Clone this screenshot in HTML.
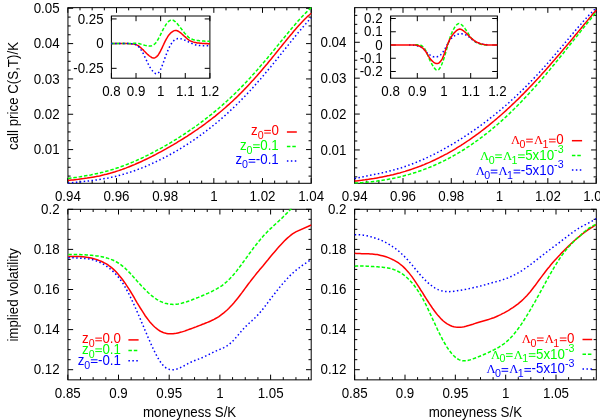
<!DOCTYPE html><html><head><meta charset="utf-8"><style>html,body{margin:0;padding:0;background:#fff}svg{display:block}text{font-family:"Liberation Sans",sans-serif;font-size:13.33px}.sy{font-family:"Liberation Serif",serif}</style></head><body>
<svg width="600" height="420" viewBox="0 0 600 420" style="will-change:transform">
<rect width="600" height="420" fill="#fff"/>
<defs>
<clipPath id="c_tl"><rect x="67.45" y="7.15" width="244.30" height="176.65"/></clipPath>
<clipPath id="c_tr"><rect x="354.10" y="7.15" width="242.70" height="176.65"/></clipPath>
<clipPath id="c_bl"><rect x="67.45" y="208.80" width="244.25" height="171.55"/></clipPath>
<clipPath id="c_br"><rect x="354.10" y="208.80" width="242.70" height="171.55"/></clipPath>
<clipPath id="c_itl"><rect x="110.90" y="15.50" width="99.50" height="63.20"/></clipPath>
<clipPath id="c_itr"><rect x="390.10" y="15.50" width="107.80" height="63.20"/></clipPath>
</defs>
<path d="M67.83,183.30v-5.20M67.83,7.65v5.20M116.50,183.30v-5.20M116.50,7.65v5.20M165.16,183.30v-5.20M165.16,7.65v5.20M213.83,183.30v-5.20M213.83,7.65v5.20M262.49,183.30v-5.20M262.49,7.65v5.20M311.16,183.30v-5.20M311.16,7.65v5.20M80.00,183.30v-2.70M80.00,7.65v2.70M92.16,183.30v-2.70M92.16,7.65v2.70M104.33,183.30v-2.70M104.33,7.65v2.70M128.66,183.30v-2.70M128.66,7.65v2.70M140.83,183.30v-2.70M140.83,7.65v2.70M153.00,183.30v-2.70M153.00,7.65v2.70M177.33,183.30v-2.70M177.33,7.65v2.70M189.50,183.30v-2.70M189.50,7.65v2.70M201.66,183.30v-2.70M201.66,7.65v2.70M225.99,183.30v-2.70M225.99,7.65v2.70M238.16,183.30v-2.70M238.16,7.65v2.70M250.33,183.30v-2.70M250.33,7.65v2.70M274.66,183.30v-2.70M274.66,7.65v2.70M286.83,183.30v-2.70M286.83,7.65v2.70M298.99,183.30v-2.70M298.99,7.65v2.70M67.95,8.27h5.20M311.25,8.27h-5.20M67.95,43.60h5.20M311.25,43.60h-5.20M67.95,78.93h5.20M311.25,78.93h-5.20M67.95,114.26h5.20M311.25,114.26h-5.20M67.95,149.59h5.20M311.25,149.59h-5.20M67.95,176.09h2.70M311.25,176.09h-2.70M67.95,167.26h2.70M311.25,167.26h-2.70M67.95,158.42h2.70M311.25,158.42h-2.70M67.95,140.76h2.70M311.25,140.76h-2.70M67.95,131.93h2.70M311.25,131.93h-2.70M67.95,123.09h2.70M311.25,123.09h-2.70M67.95,105.43h2.70M311.25,105.43h-2.70M67.95,96.59h2.70M311.25,96.59h-2.70M67.95,87.76h2.70M311.25,87.76h-2.70M67.95,70.10h2.70M311.25,70.10h-2.70M67.95,61.27h2.70M311.25,61.27h-2.70M67.95,52.43h2.70M311.25,52.43h-2.70M67.95,34.77h2.70M311.25,34.77h-2.70M67.95,25.94h2.70M311.25,25.94h-2.70M67.95,17.10h2.70M311.25,17.10h-2.70" stroke="#000" stroke-width="1.00" fill="none"/>
<rect x="67.95" y="7.65" width="243.30" height="175.65" fill="none" stroke="#000" stroke-width="1.00"/>
<g clip-path="url(#c_tl)">
<path d="M68.0,180.6 L69.7,180.3 L71.5,180.1 L73.2,179.9 L75.0,179.7 L76.7,179.5 L78.5,179.3 L80.2,179.0 L82.0,178.8 L83.7,178.6 L85.5,178.3 L87.2,178.1 L89.0,177.8 L90.7,177.5 L92.5,177.2 L94.2,176.9 L96.0,176.6 L97.7,176.2 L99.5,175.9 L101.2,175.5 L103.0,175.1 L104.7,174.6 L106.5,174.2 L108.2,173.7 L110.0,173.3 L111.7,172.8 L113.5,172.2 L115.2,171.7 L117.0,171.1 L118.7,170.6 L120.5,170.0 L122.2,169.4 L124.0,168.7 L125.7,168.1 L127.5,167.4 L129.2,166.7 L131.0,166.0 L132.7,165.3 L134.5,164.6 L136.2,163.8 L138.0,163.0 L139.7,162.3 L141.5,161.5 L143.2,160.6 L145.0,159.8 L146.7,159.0 L148.5,158.1 L150.2,157.3 L152.0,156.4 L153.7,155.5 L155.5,154.6 L157.2,153.7 L159.0,152.7 L160.7,151.8 L162.5,150.8 L164.2,149.9 L166.0,148.9 L167.7,147.9 L169.5,146.9 L171.2,145.9 L173.0,144.9 L174.7,143.9 L176.5,142.8 L178.2,141.7 L180.0,140.7 L181.7,139.6 L183.5,138.5 L185.2,137.4 L187.0,136.3 L188.7,135.1 L190.5,134.0 L192.2,132.8 L194.0,131.7 L195.7,130.5 L197.5,129.3 L199.2,128.0 L201.0,126.8 L202.7,125.6 L204.5,124.3 L206.2,123.0 L208.0,121.7 L209.7,120.4 L211.5,119.0 L213.2,117.7 L215.0,116.3 L216.7,114.9 L218.5,113.4 L220.2,112.0 L222.0,110.5 L223.7,109.0 L225.5,107.5 L227.2,105.9 L229.0,104.4 L230.7,102.8 L232.5,101.2 L234.2,99.5 L236.0,97.9 L237.7,96.2 L239.5,94.4 L241.2,92.7 L243.0,90.9 L244.7,89.1 L246.5,87.3 L248.2,85.4 L250.0,83.5 L251.7,81.6 L253.5,79.7 L255.2,77.7 L257.0,75.8 L258.7,73.8 L260.5,71.7 L262.2,69.7 L264.0,67.6 L265.7,65.5 L267.5,63.4 L269.2,61.3 L271.0,59.2 L272.7,57.0 L274.5,54.9 L276.2,52.7 L278.0,50.5 L279.7,48.4 L281.5,46.2 L283.2,44.0 L285.0,41.9 L286.7,39.7 L288.5,37.6 L290.2,35.5 L292.0,33.4 L293.7,31.3 L295.5,29.3 L297.2,27.3 L299.0,25.3 L300.7,23.4 L302.5,21.5 L304.2,19.7 L306.0,18.0 L307.7,16.3 L309.5,14.8 L311.2,13.3" stroke="#ff0000" stroke-width="1.5" fill="none"/>
<path d="M68.0,178.5 L69.7,178.2 L71.5,178.0 L73.2,177.7 L75.0,177.4 L76.7,177.2 L78.5,176.9 L80.2,176.7 L82.0,176.4 L83.7,176.1 L85.5,175.8 L87.2,175.5 L89.0,175.2 L90.7,174.9 L92.5,174.5 L94.2,174.2 L96.0,173.8 L97.7,173.4 L99.5,173.0 L101.2,172.6 L103.0,172.2 L104.7,171.7 L106.5,171.2 L108.2,170.8 L110.0,170.2 L111.7,169.7 L113.5,169.2 L115.2,168.6 L117.0,168.0 L118.7,167.5 L120.5,166.8 L122.2,166.2 L124.0,165.6 L125.7,164.9 L127.5,164.2 L129.2,163.5 L131.0,162.8 L132.7,162.1 L134.5,161.3 L136.2,160.6 L138.0,159.8 L139.7,159.0 L141.5,158.2 L143.2,157.4 L145.0,156.5 L146.7,155.7 L148.5,154.8 L150.2,153.9 L152.0,153.0 L153.7,152.1 L155.5,151.2 L157.2,150.2 L159.0,149.3 L160.7,148.3 L162.5,147.4 L164.2,146.4 L166.0,145.4 L167.7,144.3 L169.5,143.3 L171.2,142.3 L173.0,141.2 L174.7,140.2 L176.5,139.1 L178.2,138.0 L180.0,136.9 L181.7,135.7 L183.5,134.6 L185.2,133.5 L187.0,132.3 L188.7,131.1 L190.5,129.9 L192.2,128.7 L194.0,127.5 L195.7,126.2 L197.5,125.0 L199.2,123.7 L201.0,122.4 L202.7,121.1 L204.5,119.8 L206.2,118.4 L208.0,117.1 L209.7,115.7 L211.5,114.3 L213.2,112.9 L215.0,111.4 L216.7,110.0 L218.5,108.5 L220.2,107.0 L222.0,105.5 L223.7,103.9 L225.5,102.3 L227.2,100.8 L229.0,99.1 L230.7,97.5 L232.5,95.9 L234.2,94.2 L236.0,92.5 L237.7,90.7 L239.5,89.0 L241.2,87.2 L243.0,85.4 L244.7,83.6 L246.5,81.7 L248.2,79.9 L250.0,78.0 L251.7,76.0 L253.5,74.1 L255.2,72.1 L257.0,70.2 L258.7,68.2 L260.5,66.1 L262.2,64.1 L264.0,62.1 L265.7,60.0 L267.5,57.9 L269.2,55.8 L271.0,53.7 L272.7,51.6 L274.5,49.4 L276.2,47.3 L278.0,45.1 L279.7,43.0 L281.5,40.8 L283.2,38.7 L285.0,36.6 L286.7,34.4 L288.5,32.3 L290.2,30.2 L292.0,28.1 L293.7,26.1 L295.5,24.0 L297.2,22.0 L299.0,20.0 L300.7,18.1 L302.5,16.2 L304.2,14.4 L306.0,12.6 L307.7,10.9 L309.5,9.2 L311.2,7.6" stroke="#00ff00" stroke-width="1.5" fill="none" stroke-dasharray="3.5 1.9"/>
<path d="M68.0,183.3 L69.7,183.0 L71.5,182.8 L73.2,182.6 L75.0,182.4 L76.7,182.3 L78.5,182.1 L80.2,181.9 L82.0,181.7 L83.7,181.5 L85.5,181.3 L87.2,181.1 L89.0,180.9 L90.7,180.7 L92.5,180.5 L94.2,180.3 L96.0,180.0 L97.7,179.8 L99.5,179.5 L101.2,179.2 L103.0,178.9 L104.7,178.6 L106.5,178.3 L108.2,178.0 L110.0,177.6 L111.7,177.2 L113.5,176.8 L115.2,176.4 L117.0,176.0 L118.7,175.5 L120.5,175.1 L122.2,174.6 L124.0,174.1 L125.7,173.6 L127.5,173.0 L129.2,172.5 L131.0,171.9 L132.7,171.3 L134.5,170.7 L136.2,170.1 L138.0,169.4 L139.7,168.8 L141.5,168.1 L143.2,167.4 L145.0,166.7 L146.7,165.9 L148.5,165.2 L150.2,164.4 L152.0,163.6 L153.7,162.8 L155.5,162.0 L157.2,161.2 L159.0,160.3 L160.7,159.5 L162.5,158.6 L164.2,157.7 L166.0,156.8 L167.7,155.8 L169.5,154.9 L171.2,153.9 L173.0,152.9 L174.7,151.9 L176.5,150.9 L178.2,149.9 L180.0,148.8 L181.7,147.8 L183.5,146.7 L185.2,145.6 L187.0,144.5 L188.7,143.3 L190.5,142.2 L192.2,141.0 L194.0,139.8 L195.7,138.6 L197.5,137.4 L199.2,136.1 L201.0,134.9 L202.7,133.6 L204.5,132.3 L206.2,131.0 L208.0,129.6 L209.7,128.3 L211.5,126.9 L213.2,125.5 L215.0,124.1 L216.7,122.6 L218.5,121.2 L220.2,119.7 L222.0,118.2 L223.7,116.6 L225.5,115.1 L227.2,113.5 L229.0,111.9 L230.7,110.3 L232.5,108.6 L234.2,107.0 L236.0,105.3 L237.7,103.5 L239.5,101.8 L241.2,100.0 L243.0,98.2 L244.7,96.4 L246.5,94.6 L248.2,92.7 L250.0,90.8 L251.7,88.9 L253.5,87.0 L255.2,85.0 L257.0,83.0 L258.7,81.0 L260.5,79.0 L262.2,77.0 L264.0,74.9 L265.7,72.8 L267.5,70.7 L269.2,68.6 L271.0,66.5 L272.7,64.4 L274.5,62.2 L276.2,60.0 L278.0,57.8 L279.7,55.7 L281.5,53.5 L283.2,51.3 L285.0,49.1 L286.7,46.9 L288.5,44.7 L290.2,42.5 L292.0,40.3 L293.7,38.2 L295.5,36.0 L297.2,33.9 L299.0,31.7 L300.7,29.7 L302.5,27.6 L304.2,25.6 L306.0,23.6 L307.7,21.6 L309.5,19.7 L311.2,17.9" stroke="#0000ff" stroke-width="1.5" fill="none" stroke-dasharray="1.5 2.45"/>
</g>
<text transform="translate(59.60,12.87) scale(1,1.06)" text-anchor="end" fill="#000">0.05</text>
<text transform="translate(59.60,48.20) scale(1,1.06)" text-anchor="end" fill="#000">0.04</text>
<text transform="translate(59.60,83.53) scale(1,1.06)" text-anchor="end" fill="#000">0.03</text>
<text transform="translate(59.60,118.86) scale(1,1.06)" text-anchor="end" fill="#000">0.02</text>
<text transform="translate(59.60,154.19) scale(1,1.06)" text-anchor="end" fill="#000">0.01</text>
<text transform="translate(67.83,201.30) scale(1,1.06)" text-anchor="middle" fill="#000">0.94</text>
<text transform="translate(116.50,201.30) scale(1,1.06)" text-anchor="middle" fill="#000">0.96</text>
<text transform="translate(165.16,201.30) scale(1,1.06)" text-anchor="middle" fill="#000">0.98</text>
<text transform="translate(213.83,201.30) scale(1,1.06)" text-anchor="middle" fill="#000">1</text>
<text transform="translate(262.49,201.30) scale(1,1.06)" text-anchor="middle" fill="#000">1.02</text>
<text transform="translate(311.16,201.30) scale(1,1.06)" text-anchor="middle" fill="#000">1.04</text>
<text transform="translate(18.1,96.0) rotate(-90) scale(1,1.06)" text-anchor="middle">call price C(S,T)/K</text>
<path d="M111.40,78.20v-5.20M111.40,16.00v5.20M136.03,78.20v-5.20M136.03,16.00v5.20M160.65,78.20v-5.20M160.65,16.00v5.20M185.28,78.20v-5.20M185.28,16.00v5.20M209.90,78.20v-5.20M209.90,16.00v5.20M111.40,18.93h5.20M209.90,18.93h-5.20M111.40,43.63h5.20M209.90,43.63h-5.20M111.40,68.33h5.20M209.90,68.33h-5.20" stroke="#000" stroke-width="1.00" fill="none"/>
<rect x="111.40" y="16.00" width="98.50" height="62.20" fill="none" stroke="#000" stroke-width="1.00"/>
<g clip-path="url(#c_itl)">
<path d="M111.2,43.6 L112.0,43.6 L112.7,43.6 L113.5,43.6 L114.0,43.6 L114.7,43.6 L115.5,43.6 L116.2,43.6 L117.0,43.6 L117.7,43.6 L118.2,43.6 L119.0,43.6 L119.7,43.6 L120.5,43.6 L121.2,43.6 L122.0,43.6 L122.5,43.6 L123.2,43.6 L124.0,43.6 L124.7,43.6 L125.5,43.6 L126.2,43.6 L127.0,43.6 L127.5,43.6 L128.2,43.6 L128.9,43.7 L129.7,43.7 L130.4,43.7 L131.2,43.8 L131.7,43.8 L132.4,43.9 L133.2,44.0 L133.9,44.1 L134.7,44.2 L135.4,44.4 L135.9,44.6 L136.7,44.9 L137.4,45.3 L138.2,45.7 L138.9,46.2 L139.7,46.8 L140.4,47.4 L140.9,47.8 L141.7,48.5 L142.4,49.2 L143.2,49.9 L143.9,50.7 L144.7,51.5 L145.2,52.0 L145.9,52.7 L146.7,53.5 L147.4,54.2 L148.2,54.9 L148.9,55.5 L149.4,55.9 L150.2,56.5 L150.9,57.0 L151.7,57.5 L152.4,57.8 L153.2,58.0 L153.9,58.0 L154.4,58.0 L155.2,57.7 L155.9,57.2 L156.7,56.6 L157.4,55.9 L158.2,55.0 L158.7,54.2 L159.4,53.0 L160.2,51.7 L160.9,50.2 L161.7,48.7 L162.4,47.1 L162.9,46.0 L163.7,44.4 L164.4,42.8 L165.2,41.2 L165.9,39.8 L166.7,38.4 L167.2,37.6 L167.9,36.4 L168.7,35.3 L169.4,34.4 L170.2,33.5 L170.9,32.8 L171.7,32.2 L172.2,31.8 L172.9,31.3 L173.7,30.9 L174.4,30.6 L175.2,30.4 L175.9,30.4 L176.4,30.5 L177.2,30.7 L177.9,31.0 L178.7,31.5 L179.4,32.0 L180.2,32.5 L180.7,32.9 L181.4,33.5 L182.2,34.2 L182.9,34.9 L183.7,35.6 L184.4,36.3 L185.2,36.9 L185.7,37.4 L186.4,38.0 L187.2,38.7 L187.9,39.3 L188.7,39.8 L189.4,40.3 L189.9,40.6 L190.7,41.0 L191.4,41.3 L192.2,41.6 L192.9,41.9 L193.7,42.1 L194.2,42.3 L194.9,42.4 L195.7,42.6 L196.4,42.7 L197.2,42.9 L197.9,43.0 L198.7,43.1 L199.2,43.1 L199.9,43.2 L200.7,43.3 L201.4,43.3 L202.2,43.4 L202.9,43.4 L203.4,43.5 L204.2,43.5 L204.9,43.5 L205.7,43.6 L206.4,43.6 L207.2,43.6 L207.7,43.7 L208.4,43.7 L209.2,43.7 L209.9,43.7" stroke="#ff0000" stroke-width="1.5" fill="none"/>
<path d="M111.2,43.6 L112.0,43.6 L112.7,43.6 L113.5,43.6 L114.0,43.6 L114.7,43.6 L115.5,43.6 L116.2,43.6 L117.0,43.6 L117.7,43.6 L118.2,43.6 L119.0,43.6 L119.7,43.6 L120.5,43.6 L121.2,43.6 L122.0,43.6 L122.5,43.6 L123.2,43.6 L124.0,43.6 L124.7,43.6 L125.5,43.6 L126.2,43.6 L127.0,43.6 L127.5,43.6 L128.2,43.6 L128.9,43.6 L129.7,43.6 L130.4,43.5 L131.2,43.5 L131.7,43.5 L132.4,43.4 L133.2,43.4 L133.9,43.3 L134.7,43.3 L135.4,43.3 L135.9,43.3 L136.7,43.3 L137.4,43.4 L138.2,43.5 L138.9,43.6 L139.7,43.8 L140.4,44.0 L140.9,44.1 L141.7,44.4 L142.4,44.6 L143.2,44.8 L143.9,45.0 L144.7,45.2 L145.2,45.4 L145.9,45.6 L146.7,45.7 L147.4,45.9 L148.2,46.0 L148.9,46.1 L149.4,46.1 L150.2,46.1 L150.9,46.0 L151.7,45.8 L152.4,45.5 L153.2,45.1 L153.9,44.6 L154.4,44.2 L155.2,43.5 L155.9,42.7 L156.7,41.7 L157.4,40.5 L158.2,39.2 L158.7,38.2 L159.4,36.8 L160.2,35.4 L160.9,33.9 L161.7,32.3 L162.4,30.8 L162.9,29.8 L163.7,28.4 L164.4,27.0 L165.2,25.8 L165.9,24.6 L166.7,23.6 L167.2,23.0 L167.9,22.1 L168.7,21.4 L169.4,20.8 L170.2,20.3 L170.9,20.0 L171.7,19.9 L172.2,19.9 L172.9,20.1 L173.7,20.5 L174.4,21.1 L175.2,21.6 L175.9,22.3 L176.4,22.8 L177.2,23.6 L177.9,24.5 L178.7,25.4 L179.4,26.3 L180.2,27.3 L180.7,28.0 L181.4,28.9 L182.2,30.0 L182.9,31.0 L183.7,31.9 L184.4,32.9 L185.2,33.8 L185.7,34.3 L186.4,35.2 L187.2,35.9 L187.9,36.6 L188.7,37.3 L189.4,37.8 L189.9,38.1 L190.7,38.6 L191.4,38.9 L192.2,39.2 L192.9,39.5 L193.7,39.7 L194.2,39.9 L194.9,40.0 L195.7,40.2 L196.4,40.3 L197.2,40.4 L197.9,40.6 L198.7,40.6 L199.2,40.7 L199.9,40.8 L200.7,40.8 L201.4,40.9 L202.2,41.0 L202.9,41.0 L203.4,41.1 L204.2,41.1 L204.9,41.2 L205.7,41.2 L206.4,41.3 L207.2,41.3 L207.7,41.3 L208.4,41.3 L209.2,41.4 L209.9,41.4" stroke="#00ff00" stroke-width="1.5" fill="none" stroke-dasharray="3.5 1.9"/>
<path d="M111.2,43.6 L112.0,43.6 L112.7,43.6 L113.5,43.6 L114.0,43.6 L114.7,43.6 L115.5,43.6 L116.2,43.6 L117.0,43.6 L117.7,43.6 L118.2,43.6 L119.0,43.6 L119.7,43.6 L120.5,43.6 L121.2,43.6 L122.0,43.6 L122.5,43.6 L123.2,43.6 L124.0,43.6 L124.7,43.6 L125.5,43.6 L126.2,43.6 L127.0,43.6 L127.5,43.6 L128.2,43.6 L128.9,43.7 L129.7,43.7 L130.4,43.7 L131.2,43.8 L131.7,43.8 L132.4,43.9 L133.2,44.0 L133.9,44.1 L134.7,44.3 L135.4,44.6 L135.9,44.8 L136.7,45.2 L137.4,45.7 L138.2,46.3 L138.9,47.0 L139.7,47.9 L140.4,48.8 L140.9,49.6 L141.7,50.7 L142.4,52.1 L143.2,53.5 L143.9,55.1 L144.7,56.7 L145.2,57.7 L145.9,59.3 L146.7,60.9 L147.4,62.5 L148.2,64.0 L148.9,65.5 L149.4,66.4 L150.2,67.7 L150.9,68.8 L151.7,69.9 L152.4,70.8 L153.2,71.6 L153.9,72.4 L154.4,72.8 L155.2,73.3 L155.9,73.7 L156.7,73.8 L157.4,73.6 L158.2,73.1 L158.7,72.6 L159.4,71.6 L160.2,70.4 L160.9,68.8 L161.7,67.0 L162.4,65.0 L162.9,63.6 L163.7,61.5 L164.4,59.4 L165.2,57.4 L165.9,55.4 L166.7,53.5 L167.2,52.2 L167.9,50.4 L168.7,48.7 L169.4,47.2 L170.2,45.7 L170.9,44.3 L171.7,43.2 L172.2,42.5 L172.9,41.5 L173.7,40.7 L174.4,40.0 L175.2,39.5 L175.9,39.1 L176.4,39.0 L177.2,38.8 L177.9,38.6 L178.7,38.5 L179.4,38.5 L180.2,38.6 L180.7,38.7 L181.4,38.9 L182.2,39.1 L182.9,39.4 L183.7,39.7 L184.4,40.0 L185.2,40.3 L185.7,40.6 L186.4,40.9 L187.2,41.3 L187.9,41.6 L188.7,42.0 L189.4,42.3 L189.9,42.6 L190.7,42.9 L191.4,43.3 L192.2,43.6 L192.9,44.0 L193.7,44.3 L194.2,44.5 L194.9,44.7 L195.7,44.9 L196.4,45.0 L197.2,45.2 L197.9,45.3 L198.7,45.4 L199.2,45.5 L199.9,45.5 L200.7,45.6 L201.4,45.6 L202.2,45.7 L202.9,45.7 L203.4,45.7 L204.2,45.7 L204.9,45.7 L205.7,45.7 L206.4,45.7 L207.2,45.7 L207.7,45.7 L208.4,45.6 L209.2,45.6 L209.9,45.6" stroke="#0000ff" stroke-width="1.5" fill="none" stroke-dasharray="1.5 2.45"/>
</g>
<text transform="translate(103.60,23.63) scale(1,1.06)" text-anchor="end" fill="#000">0.25</text>
<text transform="translate(103.60,48.33) scale(1,1.06)" text-anchor="end" fill="#000">0</text>
<text transform="translate(103.60,73.03) scale(1,1.06)" text-anchor="end" fill="#000">-0.25</text>
<text transform="translate(111.40,95.70) scale(1,1.06)" text-anchor="middle" fill="#000">0.8</text>
<text transform="translate(136.03,95.70) scale(1,1.06)" text-anchor="middle" fill="#000">0.9</text>
<text transform="translate(160.65,95.70) scale(1,1.06)" text-anchor="middle" fill="#000">1</text>
<text transform="translate(185.28,95.70) scale(1,1.06)" text-anchor="middle" fill="#000">1.1</text>
<text transform="translate(209.90,95.70) scale(1,1.06)" text-anchor="middle" fill="#000">1.2</text>
<text transform="translate(251.01,135.20) scale(1,1.06)" fill="#ff0000">z</text>
<text transform="translate(257.67,139.10) scale(1,1.06)" fill="#ff0000" style="font-size:10.66px">0</text>
<rect x="264.20" y="132.57" width="6.67" height="1.00" fill="#ff0000"/>
<rect x="264.20" y="129.90" width="6.67" height="1.00" fill="#ff0000"/>
<text transform="translate(271.39,135.20) scale(1,1.06)" fill="#ff0000">0</text>
<path d="M286.90,132.00H296.80" stroke="#ff0000" stroke-width="1.5" fill="none"/>
<text transform="translate(239.89,149.60) scale(1,1.06)" fill="#00ff00">z</text>
<text transform="translate(246.56,153.50) scale(1,1.06)" fill="#00ff00" style="font-size:10.66px">0</text>
<rect x="253.08" y="146.97" width="6.67" height="1.00" fill="#00ff00"/>
<rect x="253.08" y="144.30" width="6.67" height="1.00" fill="#00ff00"/>
<text transform="translate(260.27,149.60) scale(1,1.06)" fill="#00ff00">0.1</text>
<path d="M286.90,146.60H296.80" stroke="#00ff00" stroke-width="1.5" fill="none" stroke-dasharray="3.5 1.9"/>
<text transform="translate(235.45,164.30) scale(1,1.06)" fill="#0000ff">z</text>
<text transform="translate(242.12,168.20) scale(1,1.06)" fill="#0000ff" style="font-size:10.66px">0</text>
<rect x="248.65" y="161.67" width="6.67" height="1.00" fill="#0000ff"/>
<rect x="248.65" y="159.00" width="6.67" height="1.00" fill="#0000ff"/>
<text transform="translate(255.83,164.30) scale(1,1.06)" fill="#0000ff">-0.1</text>
<path d="M286.90,161.10H296.80" stroke="#0000ff" stroke-width="1.5" fill="none" stroke-dasharray="1.5 2.45"/>
<path d="M354.72,183.30v-5.20M354.72,7.65v5.20M403.00,183.30v-5.20M403.00,7.65v5.20M451.28,183.30v-5.20M451.28,7.65v5.20M499.56,183.30v-5.20M499.56,7.65v5.20M547.84,183.30v-5.20M547.84,7.65v5.20M596.12,183.30v-5.20M596.12,7.65v5.20M366.79,183.30v-2.70M366.79,7.65v2.70M378.86,183.30v-2.70M378.86,7.65v2.70M390.93,183.30v-2.70M390.93,7.65v2.70M415.07,183.30v-2.70M415.07,7.65v2.70M427.14,183.30v-2.70M427.14,7.65v2.70M439.21,183.30v-2.70M439.21,7.65v2.70M463.35,183.30v-2.70M463.35,7.65v2.70M475.42,183.30v-2.70M475.42,7.65v2.70M487.49,183.30v-2.70M487.49,7.65v2.70M511.63,183.30v-2.70M511.63,7.65v2.70M523.70,183.30v-2.70M523.70,7.65v2.70M535.77,183.30v-2.70M535.77,7.65v2.70M559.91,183.30v-2.70M559.91,7.65v2.70M571.98,183.30v-2.70M571.98,7.65v2.70M584.05,183.30v-2.70M584.05,7.65v2.70M354.60,42.27h5.20M596.30,42.27h-5.20M354.60,78.16h5.20M596.30,78.16h-5.20M354.60,114.05h5.20M596.30,114.05h-5.20M354.60,149.94h5.20M596.30,149.94h-5.20M354.60,176.86h2.70M596.30,176.86h-2.70M354.60,167.89h2.70M596.30,167.89h-2.70M354.60,158.91h2.70M596.30,158.91h-2.70M354.60,140.97h2.70M596.30,140.97h-2.70M354.60,132.00h2.70M596.30,132.00h-2.70M354.60,123.02h2.70M596.30,123.02h-2.70M354.60,105.08h2.70M596.30,105.08h-2.70M354.60,96.11h2.70M596.30,96.11h-2.70M354.60,87.13h2.70M596.30,87.13h-2.70M354.60,69.19h2.70M596.30,69.19h-2.70M354.60,60.21h2.70M596.30,60.21h-2.70M354.60,51.24h2.70M596.30,51.24h-2.70M354.60,33.30h2.70M596.30,33.30h-2.70M354.60,24.33h2.70M596.30,24.33h-2.70M354.60,15.35h2.70M596.30,15.35h-2.70" stroke="#000" stroke-width="1.00" fill="none"/>
<rect x="354.60" y="7.65" width="241.70" height="175.65" fill="none" stroke="#000" stroke-width="1.00"/>
<g clip-path="url(#c_tr)">
<path d="M354.6,181.1 L356.3,180.9 L358.1,180.7 L359.8,180.5 L361.6,180.3 L363.3,180.0 L365.0,179.8 L366.8,179.5 L368.5,179.3 L370.2,179.0 L372.0,178.7 L373.7,178.5 L375.5,178.2 L377.2,177.9 L378.9,177.6 L380.7,177.2 L382.4,176.9 L384.2,176.6 L385.9,176.2 L387.6,175.8 L389.4,175.5 L391.1,175.1 L392.9,174.7 L394.6,174.2 L396.3,173.8 L398.1,173.3 L399.8,172.9 L401.5,172.4 L403.3,171.9 L405.0,171.4 L406.8,170.8 L408.5,170.3 L410.2,169.7 L412.0,169.1 L413.7,168.5 L415.5,167.9 L417.2,167.3 L418.9,166.6 L420.7,166.0 L422.4,165.3 L424.2,164.6 L425.9,163.8 L427.6,163.1 L429.4,162.4 L431.1,161.6 L432.8,160.8 L434.6,160.0 L436.3,159.1 L438.1,158.3 L439.8,157.4 L441.5,156.5 L443.3,155.6 L445.0,154.7 L446.8,153.8 L448.5,152.8 L450.2,151.8 L452.0,150.8 L453.7,149.8 L455.5,148.8 L457.2,147.7 L458.9,146.7 L460.7,145.6 L462.4,144.5 L464.1,143.3 L465.9,142.2 L467.6,141.0 L469.4,139.8 L471.1,138.6 L472.8,137.4 L474.6,136.2 L476.3,134.9 L478.1,133.6 L479.8,132.3 L481.5,131.0 L483.3,129.7 L485.0,128.3 L486.8,126.9 L488.5,125.6 L490.2,124.1 L492.0,122.7 L493.7,121.3 L495.4,119.8 L497.2,118.3 L498.9,116.8 L500.7,115.3 L502.4,113.8 L504.1,112.2 L505.9,110.6 L507.6,109.0 L509.4,107.4 L511.1,105.8 L512.8,104.1 L514.6,102.5 L516.3,100.8 L518.1,99.1 L519.8,97.4 L521.5,95.6 L523.3,93.9 L525.0,92.1 L526.7,90.4 L528.5,88.6 L530.2,86.7 L532.0,84.9 L533.7,83.1 L535.4,81.2 L537.2,79.3 L538.9,77.4 L540.7,75.5 L542.4,73.6 L544.1,71.7 L545.9,69.7 L547.6,67.8 L549.4,65.8 L551.1,63.8 L552.8,61.8 L554.6,59.8 L556.3,57.8 L558.0,55.8 L559.8,53.7 L561.5,51.7 L563.3,49.6 L565.0,47.6 L566.7,45.5 L568.5,43.4 L570.2,41.4 L572.0,39.3 L573.7,37.2 L575.4,35.1 L577.2,33.0 L578.9,30.9 L580.7,28.8 L582.4,26.7 L584.1,24.6 L585.9,22.5 L587.6,20.4 L589.3,18.3 L591.1,16.2 L592.8,14.1 L594.6,12.0 L596.3,10.0" stroke="#ff0000" stroke-width="1.5" fill="none"/>
<path d="M354.6,183.1 L356.3,183.0 L358.1,182.9 L359.8,182.8 L361.6,182.7 L363.3,182.5 L365.0,182.4 L366.8,182.2 L368.5,182.1 L370.2,181.9 L372.0,181.7 L373.7,181.5 L375.5,181.3 L377.2,181.1 L378.9,180.8 L380.7,180.6 L382.4,180.3 L384.2,180.0 L385.9,179.7 L387.6,179.4 L389.4,179.1 L391.1,178.8 L392.9,178.4 L394.6,178.1 L396.3,177.7 L398.1,177.3 L399.8,176.9 L401.5,176.4 L403.3,176.0 L405.0,175.5 L406.8,175.1 L408.5,174.6 L410.2,174.1 L412.0,173.6 L413.7,173.0 L415.5,172.5 L417.2,171.9 L418.9,171.3 L420.7,170.7 L422.4,170.1 L424.2,169.4 L425.9,168.8 L427.6,168.1 L429.4,167.4 L431.1,166.7 L432.8,166.0 L434.6,165.2 L436.3,164.4 L438.1,163.6 L439.8,162.8 L441.5,162.0 L443.3,161.2 L445.0,160.3 L446.8,159.4 L448.5,158.5 L450.2,157.6 L452.0,156.6 L453.7,155.7 L455.5,154.7 L457.2,153.7 L458.9,152.7 L460.7,151.6 L462.4,150.5 L464.1,149.5 L465.9,148.3 L467.6,147.2 L469.4,146.1 L471.1,144.9 L472.8,143.7 L474.6,142.5 L476.3,141.2 L478.1,140.0 L479.8,138.7 L481.5,137.4 L483.3,136.1 L485.0,134.7 L486.8,133.4 L488.5,132.0 L490.2,130.6 L492.0,129.1 L493.7,127.7 L495.4,126.2 L497.2,124.7 L498.9,123.2 L500.7,121.6 L502.4,120.1 L504.1,118.5 L505.9,116.9 L507.6,115.3 L509.4,113.6 L511.1,111.9 L512.8,110.2 L514.6,108.5 L516.3,106.8 L518.1,105.0 L519.8,103.3 L521.5,101.5 L523.3,99.7 L525.0,97.8 L526.7,96.0 L528.5,94.1 L530.2,92.2 L532.0,90.3 L533.7,88.4 L535.4,86.4 L537.2,84.4 L538.9,82.5 L540.7,80.5 L542.4,78.4 L544.1,76.4 L545.9,74.4 L547.6,72.3 L549.4,70.2 L551.1,68.1 L552.8,66.0 L554.6,63.9 L556.3,61.8 L558.0,59.7 L559.8,57.5 L561.5,55.4 L563.3,53.2 L565.0,51.1 L566.7,48.9 L568.5,46.7 L570.2,44.5 L572.0,42.3 L573.7,40.1 L575.4,38.0 L577.2,35.8 L578.9,33.6 L580.7,31.4 L582.4,29.2 L584.1,27.0 L585.9,24.9 L587.6,22.7 L589.3,20.5 L591.1,18.4 L592.8,16.3 L594.6,14.1 L596.3,12.0" stroke="#00ff00" stroke-width="1.5" fill="none" stroke-dasharray="3.5 1.9"/>
<path d="M354.6,178.6 L356.3,178.2 L358.1,177.8 L359.8,177.4 L361.6,177.1 L363.3,176.7 L365.0,176.4 L366.8,176.0 L368.5,175.7 L370.2,175.3 L372.0,175.0 L373.7,174.6 L375.5,174.3 L377.2,173.9 L378.9,173.6 L380.7,173.2 L382.4,172.8 L384.2,172.4 L385.9,172.0 L387.6,171.6 L389.4,171.1 L391.1,170.7 L392.9,170.2 L394.6,169.7 L396.3,169.2 L398.1,168.7 L399.8,168.2 L401.5,167.7 L403.3,167.1 L405.0,166.5 L406.8,165.9 L408.5,165.3 L410.2,164.7 L412.0,164.0 L413.7,163.3 L415.5,162.7 L417.2,161.9 L418.9,161.2 L420.7,160.5 L422.4,159.7 L424.2,159.0 L425.9,158.2 L427.6,157.4 L429.4,156.5 L431.1,155.7 L432.8,154.8 L434.6,154.0 L436.3,153.1 L438.1,152.2 L439.8,151.3 L441.5,150.3 L443.3,149.4 L445.0,148.4 L446.8,147.4 L448.5,146.4 L450.2,145.4 L452.0,144.4 L453.7,143.4 L455.5,142.3 L457.2,141.3 L458.9,140.2 L460.7,139.1 L462.4,138.0 L464.1,136.8 L465.9,135.7 L467.6,134.6 L469.4,133.4 L471.1,132.2 L472.8,131.0 L474.6,129.8 L476.3,128.6 L478.1,127.3 L479.8,126.1 L481.5,124.8 L483.3,123.5 L485.0,122.2 L486.8,120.9 L488.5,119.6 L490.2,118.2 L492.0,116.8 L493.7,115.5 L495.4,114.1 L497.2,112.6 L498.9,111.2 L500.7,109.8 L502.4,108.3 L504.1,106.8 L505.9,105.3 L507.6,103.8 L509.4,102.2 L511.1,100.6 L512.8,99.1 L514.6,97.5 L516.3,95.8 L518.1,94.2 L519.8,92.5 L521.5,90.8 L523.3,89.1 L525.0,87.4 L526.7,85.7 L528.5,83.9 L530.2,82.1 L532.0,80.3 L533.7,78.5 L535.4,76.6 L537.2,74.8 L538.9,72.9 L540.7,71.0 L542.4,69.1 L544.1,67.1 L545.9,65.2 L547.6,63.2 L549.4,61.2 L551.1,59.2 L552.8,57.2 L554.6,55.2 L556.3,53.1 L558.0,51.1 L559.8,49.0 L561.5,47.0 L563.3,44.9 L565.0,42.8 L566.7,40.8 L568.5,38.7 L570.2,36.6 L572.0,34.5 L573.7,32.5 L575.4,30.4 L577.2,28.4 L578.9,26.4 L580.7,24.4 L582.4,22.4 L584.1,20.4 L585.9,18.5 L587.6,16.6 L589.3,14.8 L591.1,13.0 L592.8,11.2 L594.6,9.5 L596.3,7.9" stroke="#0000ff" stroke-width="1.5" fill="none" stroke-dasharray="1.5 2.45"/>
</g>
<text transform="translate(346.40,46.87) scale(1,1.06)" text-anchor="end" fill="#000">0.04</text>
<text transform="translate(346.40,82.76) scale(1,1.06)" text-anchor="end" fill="#000">0.03</text>
<text transform="translate(346.40,118.65) scale(1,1.06)" text-anchor="end" fill="#000">0.02</text>
<text transform="translate(346.40,154.54) scale(1,1.06)" text-anchor="end" fill="#000">0.01</text>
<text transform="translate(354.72,201.30) scale(1,1.06)" text-anchor="middle" fill="#000">0.94</text>
<text transform="translate(403.00,201.30) scale(1,1.06)" text-anchor="middle" fill="#000">0.96</text>
<text transform="translate(451.28,201.30) scale(1,1.06)" text-anchor="middle" fill="#000">0.98</text>
<text transform="translate(499.56,201.30) scale(1,1.06)" text-anchor="middle" fill="#000">1</text>
<text transform="translate(547.84,201.30) scale(1,1.06)" text-anchor="middle" fill="#000">1.02</text>
<text transform="translate(596.12,201.30) scale(1,1.06)" text-anchor="middle" fill="#000">1.04</text>
<path d="M390.60,78.20v-5.20M390.60,16.00v5.20M417.30,78.20v-5.20M417.30,16.00v5.20M444.00,78.20v-5.20M444.00,16.00v5.20M470.70,78.20v-5.20M470.70,16.00v5.20M497.40,78.20v-5.20M497.40,16.00v5.20M390.60,18.50h5.20M497.40,18.50h-5.20M390.60,31.75h5.20M497.40,31.75h-5.20M390.60,45.00h5.20M497.40,45.00h-5.20M390.60,58.25h5.20M497.40,58.25h-5.20M390.60,71.50h5.20M497.40,71.50h-5.20" stroke="#000" stroke-width="1.00" fill="none"/>
<rect x="390.60" y="16.00" width="106.80" height="62.20" fill="none" stroke="#000" stroke-width="1.00"/>
<g clip-path="url(#c_itr)">
<path d="M415.0,45.0 L415.5,44.9 L416.0,44.8 L416.5,44.8 L417.0,44.8 L417.5,44.7 L418.0,44.7 L418.8,44.7 L419.2,44.8 L419.8,44.9 L420.2,45.1 L420.8,45.3 L421.2,45.5 L421.8,45.8 L422.2,46.2 L422.8,46.6 L423.2,47.0 L423.8,47.5 L424.2,48.1 L424.8,48.8 L425.2,49.6 L426.0,51.0 L426.5,52.1 L427.0,53.3 L427.5,54.5 L428.0,55.7 L428.5,57.0 L429.0,58.2 L429.5,59.4 L430.0,60.5 L430.5,61.5 L431.0,62.5 L431.5,63.4 L432.0,64.3 L432.5,65.1 L433.2,66.4 L433.8,67.1 L434.2,67.8 L434.8,68.5 L435.2,69.1 L435.8,69.6 L436.2,69.9 L436.8,70.2 L437.2,70.3 L437.8,70.2 L438.2,69.9 L438.8,69.5 L439.2,69.0 L439.8,68.3 L440.5,67.0 L441.0,66.0 L441.5,65.0 L442.0,63.8 L442.5,62.5 L443.0,61.2 L443.5,59.8 L444.0,58.3 L444.5,56.7 L445.0,55.1 L445.5,53.4 L446.0,51.6 L446.5,49.8 L447.0,47.9 L447.8,45.1 L448.2,43.3 L448.8,41.6 L449.2,39.9 L449.8,38.4 L450.2,36.9 L450.8,35.5 L451.2,34.2 L451.8,33.0 L452.2,31.9 L452.8,30.8 L453.2,29.8 L453.8,28.9 L454.2,28.1 L455.0,26.9 L455.5,26.2 L456.0,25.6 L456.5,25.0 L457.0,24.5 L457.5,24.1 L458.0,23.8 L458.5,23.6 L459.0,23.5 L459.5,23.6 L460.0,23.7 L460.5,23.9 L461.0,24.3 L461.5,24.6 L462.2,25.3 L462.8,25.8 L463.2,26.3 L463.8,26.9 L464.2,27.5 L464.8,28.2 L465.2,28.9 L465.8,29.6 L466.2,30.3 L466.8,31.1 L467.2,31.9 L467.8,32.7 L468.2,33.5 L468.8,34.3 L469.5,35.5 L470.0,36.3 L470.5,37.0 L471.0,37.7 L471.5,38.3 L472.0,38.9 L472.5,39.4 L473.0,39.9 L473.5,40.4 L474.0,40.8 L474.5,41.2 L475.0,41.6 L475.5,41.9 L476.0,42.3 L476.8,42.7 L477.2,42.9 L477.8,43.2 L478.2,43.4 L478.8,43.5 L479.2,43.7 L479.8,43.9 L480.2,44.0 L480.8,44.2 L481.2,44.3 L481.8,44.4 L482.2,44.5 L482.8,44.6 L483.2,44.7 L484.0,44.8 L484.5,44.9 L485.0,44.9 L485.5,45.0 L486.0,45.0 L486.5,45.0 L487.0,45.0" stroke="#00ff00" stroke-width="1.5" fill="none" stroke-dasharray="3.5 1.9"/>
<path d="M409.0,45.0 L409.5,45.0 L410.2,45.0 L410.8,45.1 L411.2,45.1 L412.0,45.1 L412.5,45.2 L413.0,45.2 L413.5,45.2 L414.2,45.3 L414.8,45.4 L415.2,45.5 L416.0,45.6 L416.5,45.7 L417.0,45.8 L417.8,46.0 L418.2,46.1 L418.8,46.2 L419.2,46.4 L420.0,46.6 L420.5,46.8 L421.0,47.0 L421.8,47.5 L422.2,47.8 L422.8,48.2 L423.5,48.9 L424.0,49.4 L424.5,50.0 L425.0,50.6 L425.8,51.4 L426.2,52.0 L426.8,52.5 L427.5,53.2 L428.0,53.7 L428.5,54.1 L429.2,54.6 L429.8,54.9 L430.2,55.2 L430.8,55.5 L431.5,55.9 L432.0,56.2 L432.5,56.4 L433.2,56.7 L433.8,56.8 L434.2,56.9 L435.0,57.0 L435.5,57.0 L436.0,57.0 L436.8,56.9 L437.2,56.7 L437.8,56.6 L438.2,56.4 L439.0,56.0 L439.5,55.7 L440.0,55.4 L440.8,54.8 L441.2,54.3 L441.8,53.7 L442.5,52.7 L443.0,52.0 L443.5,51.2 L444.0,50.4 L444.8,49.2 L445.2,48.3 L445.8,47.4 L446.5,46.0 L447.0,45.0 L447.5,44.1 L448.2,42.8 L448.8,41.9 L449.2,41.1 L449.8,40.4 L450.5,39.5 L451.0,38.9 L451.5,38.3 L452.2,37.6 L452.8,37.1 L453.2,36.7 L454.0,36.2 L454.5,35.8 L455.0,35.5 L455.5,35.3 L456.2,34.9 L456.8,34.6 L457.2,34.4 L458.0,34.2 L458.5,34.0 L459.0,33.9 L459.8,33.8 L460.2,33.7 L460.8,33.7 L461.2,33.7 L462.0,33.8 L462.5,33.9 L463.0,34.0 L463.8,34.2 L464.2,34.3 L464.8,34.5 L465.5,34.8 L466.0,35.0 L466.5,35.2 L467.2,35.7 L467.8,36.0 L468.2,36.4 L468.8,36.8 L469.5,37.4 L470.0,37.9 L470.5,38.3 L471.2,38.9 L471.8,39.3 L472.2,39.7 L473.0,40.2 L473.5,40.5 L474.0,40.8 L474.5,41.2 L475.2,41.6 L475.8,41.9 L476.2,42.1 L477.0,42.5 L477.5,42.7 L478.0,42.9 L478.8,43.1 L479.2,43.3 L479.8,43.4 L480.2,43.6 L481.0,43.8 L481.5,43.9 L482.0,44.0 L482.8,44.2 L483.2,44.3 L483.8,44.3 L484.5,44.5 L485.0,44.5 L485.5,44.6 L486.0,44.6 L486.8,44.7 L487.2,44.7 L487.8,44.7 L488.5,44.8 L489.0,44.8" stroke="#0000ff" stroke-width="1.5" fill="none" stroke-dasharray="1.5 2.45"/>
<path d="M390.8,45.0 L391.6,45.0 L392.3,45.0 L393.1,45.0 L393.8,45.0 L394.6,45.0 L395.3,45.0 L396.1,45.0 L397.1,45.0 L397.8,45.0 L398.6,45.0 L399.3,45.0 L400.1,45.0 L400.8,45.0 L401.6,45.0 L402.3,45.0 L403.1,45.0 L403.8,45.0 L404.6,45.0 L405.3,45.0 L406.1,45.0 L406.8,45.0 L407.6,45.0 L408.3,45.0 L409.3,45.0 L410.1,45.0 L410.8,45.0 L411.6,45.0 L412.3,45.0 L413.1,45.0 L413.8,45.0 L414.6,45.0 L415.3,45.1 L416.1,45.2 L416.8,45.3 L417.6,45.5 L418.3,45.7 L419.1,46.0 L419.8,46.3 L420.8,46.8 L421.6,47.2 L422.3,47.8 L423.1,48.4 L423.8,49.1 L424.6,50.0 L425.3,51.0 L426.1,52.1 L426.8,53.4 L427.6,54.7 L428.3,55.9 L429.1,57.1 L429.8,58.2 L430.6,59.2 L431.3,60.1 L432.1,60.9 L433.1,61.8 L433.8,62.4 L434.6,62.9 L435.3,63.3 L436.1,63.5 L436.8,63.6 L437.6,63.5 L438.3,63.2 L439.1,62.8 L439.8,62.1 L440.6,61.3 L441.3,60.3 L442.1,59.1 L442.8,57.5 L443.6,55.6 L444.6,52.9 L445.3,50.8 L446.1,48.7 L446.8,46.6 L447.6,44.6 L448.3,42.7 L449.1,40.9 L449.8,39.4 L450.6,38.0 L451.3,36.7 L452.1,35.6 L452.8,34.6 L453.6,33.6 L454.3,32.8 L455.1,32.0 L456.1,31.0 L456.8,30.4 L457.6,29.8 L458.3,29.4 L459.1,29.2 L459.8,29.1 L460.6,29.2 L461.3,29.5 L462.1,29.9 L462.8,30.4 L463.6,30.9 L464.3,31.5 L465.1,32.1 L465.8,32.8 L466.6,33.5 L467.3,34.2 L468.3,35.3 L469.1,36.1 L469.8,36.8 L470.6,37.6 L471.3,38.2 L472.1,38.9 L472.8,39.5 L473.6,40.0 L474.3,40.6 L475.1,41.1 L475.8,41.6 L476.6,42.0 L477.3,42.4 L478.1,42.7 L478.8,43.0 L479.8,43.4 L480.6,43.7 L481.3,43.9 L482.1,44.1 L482.8,44.3 L483.6,44.5 L484.3,44.6 L485.1,44.7 L485.8,44.8 L486.6,44.8 L487.3,44.9 L488.1,44.9 L488.8,44.9 L489.6,45.0 L490.3,45.0 L491.1,45.0 L492.1,45.0 L492.8,45.0 L493.6,45.1 L494.3,45.1 L495.1,45.1 L495.8,45.1 L496.6,45.1 L497.3,45.1" stroke="#ff0000" stroke-width="1.5" fill="none"/>
</g>
<text transform="translate(382.60,23.10) scale(1,1.06)" text-anchor="end" fill="#000">0.2</text>
<text transform="translate(382.60,36.35) scale(1,1.06)" text-anchor="end" fill="#000">0.1</text>
<text transform="translate(382.60,49.60) scale(1,1.06)" text-anchor="end" fill="#000">0</text>
<text transform="translate(382.60,62.85) scale(1,1.06)" text-anchor="end" fill="#000">-0.1</text>
<text transform="translate(382.60,76.10) scale(1,1.06)" text-anchor="end" fill="#000">-0.2</text>
<text transform="translate(390.60,95.70) scale(1,1.06)" text-anchor="middle" fill="#000">0.8</text>
<text transform="translate(417.30,95.70) scale(1,1.06)" text-anchor="middle" fill="#000">0.9</text>
<text transform="translate(444.00,95.70) scale(1,1.06)" text-anchor="middle" fill="#000">1</text>
<text transform="translate(470.70,95.70) scale(1,1.06)" text-anchor="middle" fill="#000">1.1</text>
<text transform="translate(497.40,95.70) scale(1,1.06)" text-anchor="middle" fill="#000">1.2</text>
<text class="sy" transform="translate(511.07,144.00) scale(1,1.03)" fill="#ff0000" style="font-size:12.60px">Λ</text>
<text transform="translate(519.62,147.90) scale(1,1.06)" fill="#ff0000" style="font-size:10.66px">0</text>
<rect x="526.14" y="141.37" width="6.67" height="1.00" fill="#ff0000"/>
<rect x="526.14" y="138.70" width="6.67" height="1.00" fill="#ff0000"/>
<text class="sy" transform="translate(533.93,144.00) scale(1,1.03)" fill="#ff0000" style="font-size:12.60px">Λ</text>
<text transform="translate(542.47,147.90) scale(1,1.06)" fill="#ff0000" style="font-size:10.66px">1</text>
<rect x="549.00" y="141.37" width="6.67" height="1.00" fill="#ff0000"/>
<rect x="549.00" y="138.70" width="6.67" height="1.00" fill="#ff0000"/>
<text transform="translate(556.19,144.00) scale(1,1.06)" fill="#ff0000">0</text>
<path d="M571.90,140.70H582.10" stroke="#ff0000" stroke-width="1.5" fill="none"/>
<text class="sy" transform="translate(480.10,159.70) scale(1,1.03)" fill="#00ff00" style="font-size:12.60px">Λ</text>
<text transform="translate(488.64,163.60) scale(1,1.06)" fill="#00ff00" style="font-size:10.66px">0</text>
<rect x="495.17" y="157.07" width="6.67" height="1.00" fill="#00ff00"/>
<rect x="495.17" y="154.40" width="6.67" height="1.00" fill="#00ff00"/>
<text class="sy" transform="translate(502.96,159.70) scale(1,1.03)" fill="#00ff00" style="font-size:12.60px">Λ</text>
<text transform="translate(511.50,163.60) scale(1,1.06)" fill="#00ff00" style="font-size:10.66px">1</text>
<rect x="518.03" y="157.07" width="6.67" height="1.00" fill="#00ff00"/>
<rect x="518.03" y="154.40" width="6.67" height="1.00" fill="#00ff00"/>
<text transform="translate(525.22,159.70) scale(1,1.06)" fill="#00ff00">5x10</text>
<text transform="translate(554.12,152.80) scale(1,1.06)" fill="#00ff00" style="font-size:10.66px">-3</text>
<path d="M571.90,155.40H582.10" stroke="#00ff00" stroke-width="1.5" fill="none" stroke-dasharray="3.5 1.9"/>
<text class="sy" transform="translate(475.66,175.00) scale(1,1.03)" fill="#0000ff" style="font-size:12.60px">Λ</text>
<text transform="translate(484.21,178.90) scale(1,1.06)" fill="#0000ff" style="font-size:10.66px">0</text>
<rect x="490.73" y="172.37" width="6.67" height="1.00" fill="#0000ff"/>
<rect x="490.73" y="169.70" width="6.67" height="1.00" fill="#0000ff"/>
<text class="sy" transform="translate(498.52,175.00) scale(1,1.03)" fill="#0000ff" style="font-size:12.60px">Λ</text>
<text transform="translate(507.06,178.90) scale(1,1.06)" fill="#0000ff" style="font-size:10.66px">1</text>
<rect x="513.59" y="172.37" width="6.67" height="1.00" fill="#0000ff"/>
<rect x="513.59" y="169.70" width="6.67" height="1.00" fill="#0000ff"/>
<text transform="translate(520.78,175.00) scale(1,1.06)" fill="#0000ff">-5x10</text>
<text transform="translate(554.12,168.10) scale(1,1.06)" fill="#0000ff" style="font-size:10.66px">-3</text>
<path d="M571.90,169.90H582.10" stroke="#0000ff" stroke-width="1.5" fill="none" stroke-dasharray="1.5 2.45"/>
<path d="M67.80,379.85v-5.20M67.80,209.30v5.20M118.50,379.85v-5.20M118.50,209.30v5.20M169.20,379.85v-5.20M169.20,209.30v5.20M219.90,379.85v-5.20M219.90,209.30v5.20M270.60,379.85v-5.20M270.60,209.30v5.20M80.47,379.85v-2.70M80.47,209.30v2.70M93.15,379.85v-2.70M93.15,209.30v2.70M105.82,379.85v-2.70M105.82,209.30v2.70M131.18,379.85v-2.70M131.18,209.30v2.70M143.85,379.85v-2.70M143.85,209.30v2.70M156.53,379.85v-2.70M156.53,209.30v2.70M181.88,379.85v-2.70M181.88,209.30v2.70M194.55,379.85v-2.70M194.55,209.30v2.70M207.23,379.85v-2.70M207.23,209.30v2.70M232.57,379.85v-2.70M232.57,209.30v2.70M245.25,379.85v-2.70M245.25,209.30v2.70M257.93,379.85v-2.70M257.93,209.30v2.70M283.28,379.85v-2.70M283.28,209.30v2.70M295.95,379.85v-2.70M295.95,209.30v2.70M308.62,379.85v-2.70M308.62,209.30v2.70M67.95,209.30h5.20M311.20,209.30h-5.20M67.95,249.40h5.20M311.20,249.40h-5.20M67.95,289.50h5.20M311.20,289.50h-5.20M67.95,329.60h5.20M311.20,329.60h-5.20M67.95,369.70h5.20M311.20,369.70h-5.20M67.95,359.68h2.70M311.20,359.68h-2.70M67.95,349.65h2.70M311.20,349.65h-2.70M67.95,339.62h2.70M311.20,339.62h-2.70M67.95,319.58h2.70M311.20,319.58h-2.70M67.95,309.55h2.70M311.20,309.55h-2.70M67.95,299.53h2.70M311.20,299.53h-2.70M67.95,279.48h2.70M311.20,279.48h-2.70M67.95,269.45h2.70M311.20,269.45h-2.70M67.95,259.43h2.70M311.20,259.43h-2.70M67.95,239.38h2.70M311.20,239.38h-2.70M67.95,229.35h2.70M311.20,229.35h-2.70M67.95,219.33h2.70M311.20,219.33h-2.70" stroke="#000" stroke-width="1.00" fill="none"/>
<rect x="67.95" y="209.30" width="243.25" height="170.55" fill="none" stroke="#000" stroke-width="1.00"/>
<g clip-path="url(#c_bl)">
<path d="M68.3,256.7 L69.9,256.6 L71.6,256.5 L73.2,256.5 L74.8,256.5 L76.5,256.5 L78.1,256.5 L79.8,256.6 L81.4,256.7 L83.0,256.8 L84.7,257.0 L86.3,257.2 L87.9,257.4 L89.6,257.7 L91.2,258.1 L92.9,258.5 L94.5,258.9 L96.1,259.4 L97.8,260.0 L99.4,260.6 L101.0,261.3 L102.7,262.0 L104.3,262.8 L105.9,263.7 L107.6,264.7 L109.2,265.9 L110.9,267.1 L112.5,268.4 L114.1,269.9 L115.8,271.5 L117.4,273.3 L119.0,275.2 L120.7,277.2 L122.3,279.3 L123.9,281.5 L125.6,283.9 L127.2,286.3 L128.9,288.9 L130.5,291.5 L132.1,294.2 L133.8,297.0 L135.4,299.8 L137.0,302.6 L138.7,305.3 L140.3,308.0 L142.0,310.7 L143.6,313.2 L145.2,315.7 L146.9,318.0 L148.5,320.1 L150.1,322.2 L151.8,324.1 L153.4,325.8 L155.0,327.3 L156.7,328.7 L158.3,329.9 L160.0,331.0 L161.6,331.8 L163.2,332.5 L164.9,333.1 L166.5,333.4 L168.1,333.7 L169.8,333.8 L171.4,333.8 L173.0,333.7 L174.7,333.5 L176.3,333.3 L178.0,332.9 L179.6,332.5 L181.2,332.1 L182.9,331.6 L184.5,331.1 L186.1,330.5 L187.8,329.9 L189.4,329.3 L191.1,328.7 L192.7,328.1 L194.3,327.5 L196.0,326.9 L197.6,326.2 L199.2,325.6 L200.9,325.0 L202.5,324.3 L204.1,323.7 L205.8,323.0 L207.4,322.4 L209.1,321.7 L210.7,321.0 L212.3,320.2 L214.0,319.4 L215.6,318.5 L217.2,317.6 L218.9,316.6 L220.5,315.4 L222.1,314.2 L223.8,312.9 L225.4,311.5 L227.1,310.0 L228.7,308.5 L230.3,306.8 L232.0,305.0 L233.6,303.2 L235.2,301.3 L236.9,299.2 L238.5,297.2 L240.2,295.0 L241.8,292.9 L243.4,290.7 L245.1,288.4 L246.7,286.2 L248.3,284.0 L250.0,281.9 L251.6,279.8 L253.2,277.7 L254.9,275.6 L256.5,273.6 L258.2,271.6 L259.8,269.6 L261.4,267.7 L263.1,265.7 L264.7,263.7 L266.3,261.8 L268.0,259.8 L269.6,257.8 L271.2,255.8 L272.9,253.8 L274.5,251.9 L276.2,249.9 L277.8,248.1 L279.4,246.2 L281.1,244.4 L282.7,242.7 L284.3,241.0 L286.0,239.4 L287.6,237.9 L289.3,236.5 L290.9,235.2 L292.5,233.9 L294.2,232.8 L295.8,231.8 L311.3,225.0" stroke="#ff0000" stroke-width="1.5" fill="none"/>
<path d="M68.3,254.4 L70.0,254.4 L71.6,254.4 L73.3,254.4 L75.0,254.4 L76.6,254.5 L78.3,254.5 L80.0,254.6 L81.6,254.7 L83.3,254.7 L85.0,254.8 L86.6,255.0 L88.3,255.1 L90.0,255.2 L91.6,255.3 L93.3,255.5 L95.0,255.7 L96.6,255.9 L98.3,256.1 L100.0,256.4 L101.6,256.7 L103.3,257.1 L105.0,257.5 L106.6,257.9 L108.3,258.4 L110.0,258.9 L111.6,259.6 L113.3,260.3 L115.0,261.1 L116.6,262.0 L118.3,263.0 L120.0,264.1 L121.6,265.3 L123.3,266.7 L125.0,268.1 L126.6,269.7 L128.3,271.4 L130.0,273.1 L131.6,274.9 L133.3,276.8 L135.0,278.6 L136.6,280.5 L138.3,282.3 L140.0,284.2 L141.6,286.0 L143.3,287.7 L145.0,289.4 L146.6,291.1 L148.3,292.7 L150.0,294.2 L151.6,295.6 L153.3,296.9 L155.0,298.1 L156.6,299.3 L158.3,300.3 L160.0,301.2 L161.6,301.9 L163.3,302.6 L165.0,303.2 L166.6,303.6 L168.3,304.0 L170.0,304.2 L171.6,304.3 L173.3,304.4 L175.0,304.3 L176.6,304.2 L178.3,304.0 L180.0,303.6 L181.6,303.3 L183.3,302.8 L185.0,302.3 L186.7,301.8 L188.3,301.2 L190.0,300.6 L191.7,300.0 L193.3,299.3 L195.0,298.7 L196.7,298.0 L198.3,297.4 L200.0,296.7 L201.7,296.0 L203.3,295.3 L205.0,294.6 L206.7,293.8 L208.3,293.1 L210.0,292.3 L211.7,291.5 L213.3,290.7 L215.0,289.8 L216.7,288.9 L218.3,287.9 L220.0,286.9 L221.7,285.8 L223.3,284.6 L225.0,283.2 L226.7,281.8 L228.3,280.3 L230.0,278.6 L231.7,276.8 L233.3,274.9 L235.0,273.0 L236.7,270.9 L238.3,268.7 L240.0,266.5 L241.7,264.3 L243.3,262.0 L245.0,259.7 L246.7,257.4 L248.3,255.1 L250.0,252.8 L251.7,250.6 L253.3,248.3 L255.0,246.1 L256.7,244.0 L258.3,241.9 L260.0,239.9 L261.7,237.9 L263.3,236.0 L265.0,234.2 L266.7,232.4 L268.3,230.8 L270.0,229.1 L271.7,227.6 L273.3,226.0 L275.0,224.5 L276.7,223.0 L278.3,221.5 L280.0,219.9 L281.7,218.4 L283.3,216.7 L285.0,215.1 L286.7,213.4 L288.3,211.7 L290.0,210.0 L291.7,208.3 L293.3,206.7 L295.0,205.2 L296.7,203.7 L298.3,202.3 L300.0,201.0" stroke="#00ff00" stroke-width="1.5" fill="none" stroke-dasharray="3.5 1.9"/>
<path d="M68.3,257.7 L70.0,257.7 L71.8,257.8 L73.5,257.8 L75.3,257.9 L77.0,258.0 L78.8,258.1 L80.5,258.2 L82.3,258.3 L84.0,258.5 L85.8,258.6 L87.5,258.8 L89.3,259.1 L91.0,259.4 L92.8,259.8 L94.5,260.3 L96.3,260.9 L98.0,261.5 L99.8,262.3 L101.5,263.2 L103.3,264.1 L105.0,265.2 L106.8,266.4 L108.5,267.6 L110.3,269.0 L112.0,270.5 L113.8,272.1 L115.5,273.8 L117.2,275.8 L119.0,277.9 L120.7,280.2 L122.5,282.7 L124.2,285.5 L126.0,288.5 L127.7,291.8 L129.5,295.1 L131.2,298.7 L133.0,302.4 L134.7,306.2 L136.5,310.2 L138.2,314.2 L140.0,318.3 L141.7,322.4 L143.5,326.5 L145.2,330.7 L147.0,334.8 L148.7,338.9 L150.5,342.8 L152.2,346.7 L154.0,350.4 L155.7,354.0 L157.5,357.2 L159.2,360.2 L161.0,362.7 L162.7,364.9 L164.5,366.7 L166.2,368.0 L167.9,368.9 L169.7,369.5 L171.4,369.8 L173.2,369.8 L174.9,369.5 L176.7,369.1 L178.4,368.5 L180.2,367.7 L181.9,366.9 L183.7,366.0 L185.4,365.0 L187.2,364.1 L188.9,363.1 L190.7,362.3 L192.4,361.5 L194.2,360.8 L195.9,360.1 L197.7,359.4 L199.4,358.8 L201.2,358.1 L202.9,357.3 L204.7,356.6 L206.4,355.7 L208.2,354.9 L209.9,354.0 L211.7,353.1 L213.4,352.2 L215.1,351.4 L216.9,350.6 L218.6,349.9 L220.4,349.1 L222.1,348.4 L223.9,347.6 L225.6,346.7 L227.4,345.6 L229.1,344.4 L230.9,342.9 L232.6,341.3 L234.4,339.4 L236.1,337.4 L237.9,335.4 L239.6,333.3 L241.4,331.2 L243.1,329.2 L244.9,327.3 L246.6,325.6 L248.4,323.9 L250.1,322.3 L251.9,320.7 L253.6,319.1 L255.4,317.5 L257.1,315.7 L258.9,313.8 L260.6,311.8 L262.4,309.7 L264.1,307.5 L265.8,305.2 L267.6,302.9 L269.3,300.6 L271.1,298.3 L272.8,296.0 L274.6,293.7 L276.3,291.5 L278.1,289.3 L279.8,287.1 L281.6,285.0 L283.3,283.0 L285.1,281.0 L286.8,279.1 L288.6,277.2 L290.3,275.4 L292.1,273.8 L293.8,272.1 L295.6,270.6 L297.3,269.1 L299.1,267.8 L300.8,266.4 L302.6,265.2 L304.3,264.0 L306.1,262.9 L307.8,261.8 L309.6,260.7 L311.3,259.7" stroke="#0000ff" stroke-width="1.5" fill="none" stroke-dasharray="1.5 2.45"/>
</g>
<text transform="translate(59.60,213.90) scale(1,1.06)" text-anchor="end" fill="#000">0.2</text>
<text transform="translate(59.60,254.00) scale(1,1.06)" text-anchor="end" fill="#000">0.18</text>
<text transform="translate(59.60,294.10) scale(1,1.06)" text-anchor="end" fill="#000">0.16</text>
<text transform="translate(59.60,334.20) scale(1,1.06)" text-anchor="end" fill="#000">0.14</text>
<text transform="translate(59.60,374.30) scale(1,1.06)" text-anchor="end" fill="#000">0.12</text>
<text transform="translate(67.80,397.80) scale(1,1.06)" text-anchor="middle" fill="#000">0.85</text>
<text transform="translate(118.50,397.80) scale(1,1.06)" text-anchor="middle" fill="#000">0.9</text>
<text transform="translate(169.20,397.80) scale(1,1.06)" text-anchor="middle" fill="#000">0.95</text>
<text transform="translate(219.90,397.80) scale(1,1.06)" text-anchor="middle" fill="#000">1</text>
<text transform="translate(270.60,397.80) scale(1,1.06)" text-anchor="middle" fill="#000">1.05</text>
<text transform="translate(18.1,295.0) rotate(-90) scale(1,1.06)" text-anchor="middle">implied volatility</text>
<text transform="translate(189.60,417.40) scale(1,1.06)" text-anchor="middle" fill="#000">moneyness S/K</text>
<text transform="translate(82.09,342.90) scale(1,1.06)" fill="#ff0000">z</text>
<text transform="translate(88.76,346.80) scale(1,1.06)" fill="#ff0000" style="font-size:10.66px">0</text>
<rect x="95.28" y="340.27" width="6.67" height="1.00" fill="#ff0000"/>
<rect x="95.28" y="337.60" width="6.67" height="1.00" fill="#ff0000"/>
<text transform="translate(102.47,342.90) scale(1,1.06)" fill="#ff0000">0.0</text>
<path d="M128.40,339.90H138.60" stroke="#ff0000" stroke-width="1.5" fill="none"/>
<text transform="translate(82.09,353.70) scale(1,1.06)" fill="#00ff00">z</text>
<text transform="translate(88.76,357.60) scale(1,1.06)" fill="#00ff00" style="font-size:10.66px">0</text>
<rect x="95.28" y="351.07" width="6.67" height="1.00" fill="#00ff00"/>
<rect x="95.28" y="348.40" width="6.67" height="1.00" fill="#00ff00"/>
<text transform="translate(102.47,353.70) scale(1,1.06)" fill="#00ff00">0.1</text>
<path d="M128.40,350.40H138.60" stroke="#00ff00" stroke-width="1.5" fill="none" stroke-dasharray="3.5 1.9"/>
<text transform="translate(77.65,364.60) scale(1,1.06)" fill="#0000ff">z</text>
<text transform="translate(84.32,368.50) scale(1,1.06)" fill="#0000ff" style="font-size:10.66px">0</text>
<rect x="90.85" y="361.97" width="6.67" height="1.00" fill="#0000ff"/>
<rect x="90.85" y="359.30" width="6.67" height="1.00" fill="#0000ff"/>
<text transform="translate(98.03,364.60) scale(1,1.06)" fill="#0000ff">-0.1</text>
<path d="M128.40,360.80H138.60" stroke="#0000ff" stroke-width="1.5" fill="none" stroke-dasharray="1.5 2.45"/>
<path d="M354.67,379.85v-5.20M354.67,209.30v5.20M405.01,379.85v-5.20M405.01,209.30v5.20M455.34,379.85v-5.20M455.34,209.30v5.20M505.68,379.85v-5.20M505.68,209.30v5.20M556.01,379.85v-5.20M556.01,209.30v5.20M367.25,379.85v-2.70M367.25,209.30v2.70M379.84,379.85v-2.70M379.84,209.30v2.70M392.42,379.85v-2.70M392.42,209.30v2.70M417.59,379.85v-2.70M417.59,209.30v2.70M430.17,379.85v-2.70M430.17,209.30v2.70M442.76,379.85v-2.70M442.76,209.30v2.70M467.92,379.85v-2.70M467.92,209.30v2.70M480.51,379.85v-2.70M480.51,209.30v2.70M493.09,379.85v-2.70M493.09,209.30v2.70M518.26,379.85v-2.70M518.26,209.30v2.70M530.84,379.85v-2.70M530.84,209.30v2.70M543.43,379.85v-2.70M543.43,209.30v2.70M568.59,379.85v-2.70M568.59,209.30v2.70M581.18,379.85v-2.70M581.18,209.30v2.70M593.76,379.85v-2.70M593.76,209.30v2.70M354.60,209.30h5.20M596.30,209.30h-5.20M354.60,249.40h5.20M596.30,249.40h-5.20M354.60,289.50h5.20M596.30,289.50h-5.20M354.60,329.60h5.20M596.30,329.60h-5.20M354.60,369.70h5.20M596.30,369.70h-5.20M354.60,359.68h2.70M596.30,359.68h-2.70M354.60,349.65h2.70M596.30,349.65h-2.70M354.60,339.62h2.70M596.30,339.62h-2.70M354.60,319.58h2.70M596.30,319.58h-2.70M354.60,309.55h2.70M596.30,309.55h-2.70M354.60,299.53h2.70M596.30,299.53h-2.70M354.60,279.48h2.70M596.30,279.48h-2.70M354.60,269.45h2.70M596.30,269.45h-2.70M354.60,259.43h2.70M596.30,259.43h-2.70M354.60,239.38h2.70M596.30,239.38h-2.70M354.60,229.35h2.70M596.30,229.35h-2.70M354.60,219.33h2.70M596.30,219.33h-2.70" stroke="#000" stroke-width="1.00" fill="none"/>
<rect x="354.60" y="209.30" width="241.70" height="170.55" fill="none" stroke="#000" stroke-width="1.00"/>
<g clip-path="url(#c_br)">
<path d="M354.7,253.3 L356.4,253.5 L358.2,253.6 L359.9,253.6 L361.7,253.7 L363.4,253.7 L365.1,253.7 L366.9,253.8 L368.6,253.8 L370.3,253.9 L372.1,254.0 L373.8,254.2 L375.6,254.4 L377.3,254.6 L379.0,255.0 L380.8,255.4 L382.5,255.8 L384.2,256.3 L386.0,256.8 L387.7,257.4 L389.5,258.1 L391.2,258.9 L392.9,259.7 L394.7,260.6 L396.4,261.6 L398.2,262.7 L399.9,264.0 L401.6,265.3 L403.4,266.9 L405.1,268.6 L406.8,270.4 L408.6,272.4 L410.3,274.6 L412.1,276.9 L413.8,279.4 L415.5,281.9 L417.3,284.6 L419.0,287.2 L420.7,290.0 L422.5,292.7 L424.2,295.5 L426.0,298.3 L427.7,301.0 L429.4,303.7 L431.2,306.3 L432.9,308.8 L434.7,311.2 L436.4,313.5 L438.1,315.6 L439.9,317.6 L441.6,319.4 L443.3,321.0 L445.1,322.4 L446.8,323.6 L448.6,324.6 L450.3,325.5 L452.0,326.2 L453.8,326.7 L455.5,327.0 L457.2,327.2 L459.0,327.3 L460.7,327.2 L462.5,327.0 L464.2,326.7 L465.9,326.3 L467.7,325.8 L469.4,325.3 L471.2,324.7 L472.9,324.2 L474.6,323.6 L476.4,323.0 L478.1,322.5 L479.8,322.0 L481.6,321.5 L483.3,321.0 L485.1,320.5 L486.8,320.0 L488.5,319.5 L490.3,318.9 L492.0,318.3 L493.8,317.7 L495.5,317.0 L497.2,316.2 L499.0,315.4 L500.7,314.6 L502.4,313.7 L504.2,312.8 L505.9,311.8 L507.7,310.8 L509.4,309.8 L511.1,308.7 L512.9,307.6 L514.6,306.4 L516.3,305.1 L518.1,303.8 L519.8,302.4 L521.6,300.9 L523.3,299.3 L525.0,297.6 L526.8,295.7 L528.5,293.8 L530.3,291.7 L532.0,289.5 L533.7,287.3 L535.5,285.0 L537.2,282.6 L538.9,280.3 L540.7,277.9 L542.4,275.6 L544.2,273.3 L545.9,271.0 L547.6,268.8 L549.4,266.7 L551.1,264.6 L552.8,262.6 L554.6,260.6 L556.3,258.7 L558.1,256.8 L559.8,255.0 L561.5,253.1 L563.3,251.3 L565.0,249.6 L566.8,247.8 L568.5,246.1 L570.2,244.5 L572.0,242.8 L573.7,241.2 L575.4,239.7 L577.2,238.2 L578.9,236.8 L580.7,235.4 L582.4,234.0 L584.1,232.7 L585.9,231.4 L587.6,230.2 L589.3,229.0 L591.1,227.9 L592.8,226.8 L594.6,225.7 L596.3,224.7" stroke="#ff0000" stroke-width="1.5" fill="none"/>
<path d="M354.7,266.2 L356.4,266.0 L358.2,265.9 L359.9,265.9 L361.7,265.9 L363.4,265.9 L365.1,266.0 L366.9,266.2 L368.6,266.3 L370.3,266.4 L372.1,266.5 L373.8,266.6 L375.6,266.7 L377.3,266.8 L379.0,266.9 L380.8,267.0 L382.5,267.2 L384.2,267.4 L386.0,267.6 L387.7,267.9 L389.5,268.3 L391.2,268.7 L392.9,269.2 L394.7,269.9 L396.4,270.6 L398.2,271.5 L399.9,272.4 L401.6,273.5 L403.4,274.7 L405.1,276.0 L406.8,277.5 L408.6,279.2 L410.3,280.9 L412.1,282.9 L413.8,285.0 L415.5,287.3 L417.3,289.8 L419.0,292.4 L420.7,295.2 L422.5,298.2 L424.2,301.4 L426.0,304.8 L427.7,308.4 L429.4,312.1 L431.2,315.8 L432.9,319.6 L434.7,323.4 L436.4,327.1 L438.1,330.8 L439.9,334.3 L441.6,337.7 L443.3,341.0 L445.1,344.0 L446.8,346.9 L448.6,349.5 L450.3,351.8 L452.0,354.0 L453.8,355.8 L455.5,357.4 L457.2,358.7 L459.0,359.6 L460.7,360.3 L462.5,360.7 L464.2,360.8 L465.9,360.7 L467.7,360.5 L469.4,360.1 L471.2,359.6 L472.9,358.9 L474.6,358.3 L476.4,357.6 L478.1,356.9 L479.8,356.2 L481.6,355.5 L483.3,354.8 L485.1,354.0 L486.8,353.2 L488.5,352.5 L490.3,351.6 L492.0,350.8 L493.8,349.9 L495.5,349.0 L497.2,348.1 L499.0,347.1 L500.7,346.0 L502.4,344.8 L504.2,343.6 L505.9,342.2 L507.7,340.7 L509.4,339.1 L511.1,337.3 L512.9,335.4 L514.6,333.3 L516.3,331.1 L518.1,328.8 L519.8,326.4 L521.6,323.9 L523.3,321.3 L525.0,318.5 L526.8,315.7 L528.5,312.9 L530.3,309.9 L532.0,307.0 L533.7,303.9 L535.5,300.8 L537.2,297.7 L538.9,294.6 L540.7,291.4 L542.4,288.3 L544.2,285.1 L545.9,281.9 L547.6,278.8 L549.4,275.6 L551.1,272.6 L552.8,269.6 L554.6,266.6 L556.3,263.8 L558.1,261.0 L559.8,258.4 L561.5,255.9 L563.3,253.5 L565.0,251.2 L566.8,249.1 L568.5,247.1 L570.2,245.2 L572.0,243.4 L573.7,241.6 L575.4,239.9 L577.2,238.3 L578.9,236.7 L580.7,235.1 L582.4,233.5 L584.1,232.0 L585.9,230.6 L587.6,229.2 L589.3,228.0 L591.1,226.9 L592.8,225.9 L594.6,225.0 L596.3,224.3" stroke="#00ff00" stroke-width="1.5" fill="none" stroke-dasharray="3.5 1.9"/>
<path d="M354.7,234.7 L356.4,234.7 L358.2,234.7 L359.9,234.8 L361.7,235.0 L363.4,235.2 L365.1,235.5 L366.9,235.8 L368.6,236.2 L370.3,236.6 L372.1,237.1 L373.8,237.6 L375.6,238.2 L377.3,238.8 L379.0,239.4 L380.8,240.1 L382.5,240.9 L384.2,241.7 L386.0,242.6 L387.7,243.5 L389.5,244.6 L391.2,245.6 L392.9,246.8 L394.7,248.0 L396.4,249.3 L398.2,250.7 L399.9,252.2 L401.6,253.8 L403.4,255.4 L405.1,257.2 L406.8,259.0 L408.6,260.9 L410.3,262.9 L412.1,265.0 L413.8,267.1 L415.5,269.2 L417.3,271.3 L419.0,273.4 L420.7,275.4 L422.5,277.3 L424.2,279.1 L426.0,280.9 L427.7,282.5 L429.4,284.0 L431.2,285.4 L432.9,286.6 L434.7,287.8 L436.4,288.7 L438.1,289.6 L439.9,290.3 L441.6,290.8 L443.3,291.2 L445.1,291.5 L446.8,291.6 L448.6,291.7 L450.3,291.6 L452.0,291.5 L453.8,291.3 L455.5,291.1 L457.2,290.8 L459.0,290.5 L460.7,290.2 L462.5,289.9 L464.2,289.6 L465.9,289.3 L467.7,288.9 L469.4,288.6 L471.2,288.2 L472.9,287.8 L474.6,287.4 L476.4,287.0 L478.1,286.6 L479.8,286.2 L481.6,285.7 L483.3,285.2 L485.1,284.8 L486.8,284.3 L488.5,283.8 L490.3,283.3 L492.0,282.8 L493.8,282.4 L495.5,281.9 L497.2,281.4 L499.0,280.9 L500.7,280.4 L502.4,279.8 L504.2,279.2 L505.9,278.6 L507.7,278.0 L509.4,277.3 L511.1,276.5 L512.9,275.7 L514.6,274.8 L516.3,273.9 L518.1,272.9 L519.8,271.9 L521.6,270.8 L523.3,269.7 L525.0,268.5 L526.8,267.3 L528.5,266.1 L530.3,264.8 L532.0,263.5 L533.7,262.2 L535.5,260.8 L537.2,259.4 L538.9,258.1 L540.7,256.7 L542.4,255.3 L544.2,254.0 L545.9,252.6 L547.6,251.3 L549.4,250.0 L551.1,248.7 L552.8,247.4 L554.6,246.1 L556.3,244.8 L558.1,243.5 L559.8,242.2 L561.5,240.9 L563.3,239.5 L565.0,238.2 L566.8,236.9 L568.5,235.5 L570.2,234.2 L572.0,232.9 L573.7,231.7 L575.4,230.5 L577.2,229.3 L578.9,228.2 L580.7,227.2 L582.4,226.2 L584.1,225.3 L585.9,224.4 L587.6,223.5 L589.3,222.6 L591.1,221.7 L592.8,220.7 L594.6,219.7 L596.3,218.7" stroke="#0000ff" stroke-width="1.5" fill="none" stroke-dasharray="1.5 2.45"/>
</g>
<text transform="translate(346.40,213.90) scale(1,1.06)" text-anchor="end" fill="#000">0.2</text>
<text transform="translate(346.40,254.00) scale(1,1.06)" text-anchor="end" fill="#000">0.18</text>
<text transform="translate(346.40,294.10) scale(1,1.06)" text-anchor="end" fill="#000">0.16</text>
<text transform="translate(346.40,334.20) scale(1,1.06)" text-anchor="end" fill="#000">0.14</text>
<text transform="translate(346.40,374.30) scale(1,1.06)" text-anchor="end" fill="#000">0.12</text>
<text transform="translate(354.67,397.80) scale(1,1.06)" text-anchor="middle" fill="#000">0.85</text>
<text transform="translate(405.01,397.80) scale(1,1.06)" text-anchor="middle" fill="#000">0.9</text>
<text transform="translate(455.34,397.80) scale(1,1.06)" text-anchor="middle" fill="#000">0.95</text>
<text transform="translate(505.68,397.80) scale(1,1.06)" text-anchor="middle" fill="#000">1</text>
<text transform="translate(556.01,397.80) scale(1,1.06)" text-anchor="middle" fill="#000">1.05</text>
<text transform="translate(475.40,417.40) scale(1,1.06)" text-anchor="middle" fill="#000">moneyness S/K</text>
<text class="sy" transform="translate(521.87,342.80) scale(1,1.03)" fill="#ff0000" style="font-size:12.60px">Λ</text>
<text transform="translate(530.42,346.70) scale(1,1.06)" fill="#ff0000" style="font-size:10.66px">0</text>
<rect x="536.94" y="340.17" width="6.67" height="1.00" fill="#ff0000"/>
<rect x="536.94" y="337.50" width="6.67" height="1.00" fill="#ff0000"/>
<text class="sy" transform="translate(544.73,342.80) scale(1,1.03)" fill="#ff0000" style="font-size:12.60px">Λ</text>
<text transform="translate(553.27,346.70) scale(1,1.06)" fill="#ff0000" style="font-size:10.66px">1</text>
<rect x="559.80" y="340.17" width="6.67" height="1.00" fill="#ff0000"/>
<rect x="559.80" y="337.50" width="6.67" height="1.00" fill="#ff0000"/>
<text transform="translate(566.99,342.80) scale(1,1.06)" fill="#ff0000">0</text>
<path d="M582.50,339.50H592.20" stroke="#ff0000" stroke-width="1.5" fill="none"/>
<text class="sy" transform="translate(490.90,358.50) scale(1,1.03)" fill="#00ff00" style="font-size:12.60px">Λ</text>
<text transform="translate(499.44,362.40) scale(1,1.06)" fill="#00ff00" style="font-size:10.66px">0</text>
<rect x="505.97" y="355.87" width="6.67" height="1.00" fill="#00ff00"/>
<rect x="505.97" y="353.20" width="6.67" height="1.00" fill="#00ff00"/>
<text class="sy" transform="translate(513.76,358.50) scale(1,1.03)" fill="#00ff00" style="font-size:12.60px">Λ</text>
<text transform="translate(522.30,362.40) scale(1,1.06)" fill="#00ff00" style="font-size:10.66px">1</text>
<rect x="528.83" y="355.87" width="6.67" height="1.00" fill="#00ff00"/>
<rect x="528.83" y="353.20" width="6.67" height="1.00" fill="#00ff00"/>
<text transform="translate(536.02,358.50) scale(1,1.06)" fill="#00ff00">5x10</text>
<text transform="translate(564.92,351.60) scale(1,1.06)" fill="#00ff00" style="font-size:10.66px">-3</text>
<path d="M582.50,354.20H592.20" stroke="#00ff00" stroke-width="1.5" fill="none" stroke-dasharray="3.5 1.9"/>
<text class="sy" transform="translate(486.46,373.40) scale(1,1.03)" fill="#0000ff" style="font-size:12.60px">Λ</text>
<text transform="translate(495.01,377.30) scale(1,1.06)" fill="#0000ff" style="font-size:10.66px">0</text>
<rect x="501.53" y="370.77" width="6.67" height="1.00" fill="#0000ff"/>
<rect x="501.53" y="368.10" width="6.67" height="1.00" fill="#0000ff"/>
<text class="sy" transform="translate(509.32,373.40) scale(1,1.03)" fill="#0000ff" style="font-size:12.60px">Λ</text>
<text transform="translate(517.86,377.30) scale(1,1.06)" fill="#0000ff" style="font-size:10.66px">1</text>
<rect x="524.39" y="370.77" width="6.67" height="1.00" fill="#0000ff"/>
<rect x="524.39" y="368.10" width="6.67" height="1.00" fill="#0000ff"/>
<text transform="translate(531.58,373.40) scale(1,1.06)" fill="#0000ff">-5x10</text>
<text transform="translate(564.92,366.50) scale(1,1.06)" fill="#0000ff" style="font-size:10.66px">-3</text>
<path d="M582.50,369.00H592.20" stroke="#0000ff" stroke-width="1.5" fill="none" stroke-dasharray="1.5 2.45"/>
</svg></body></html>
